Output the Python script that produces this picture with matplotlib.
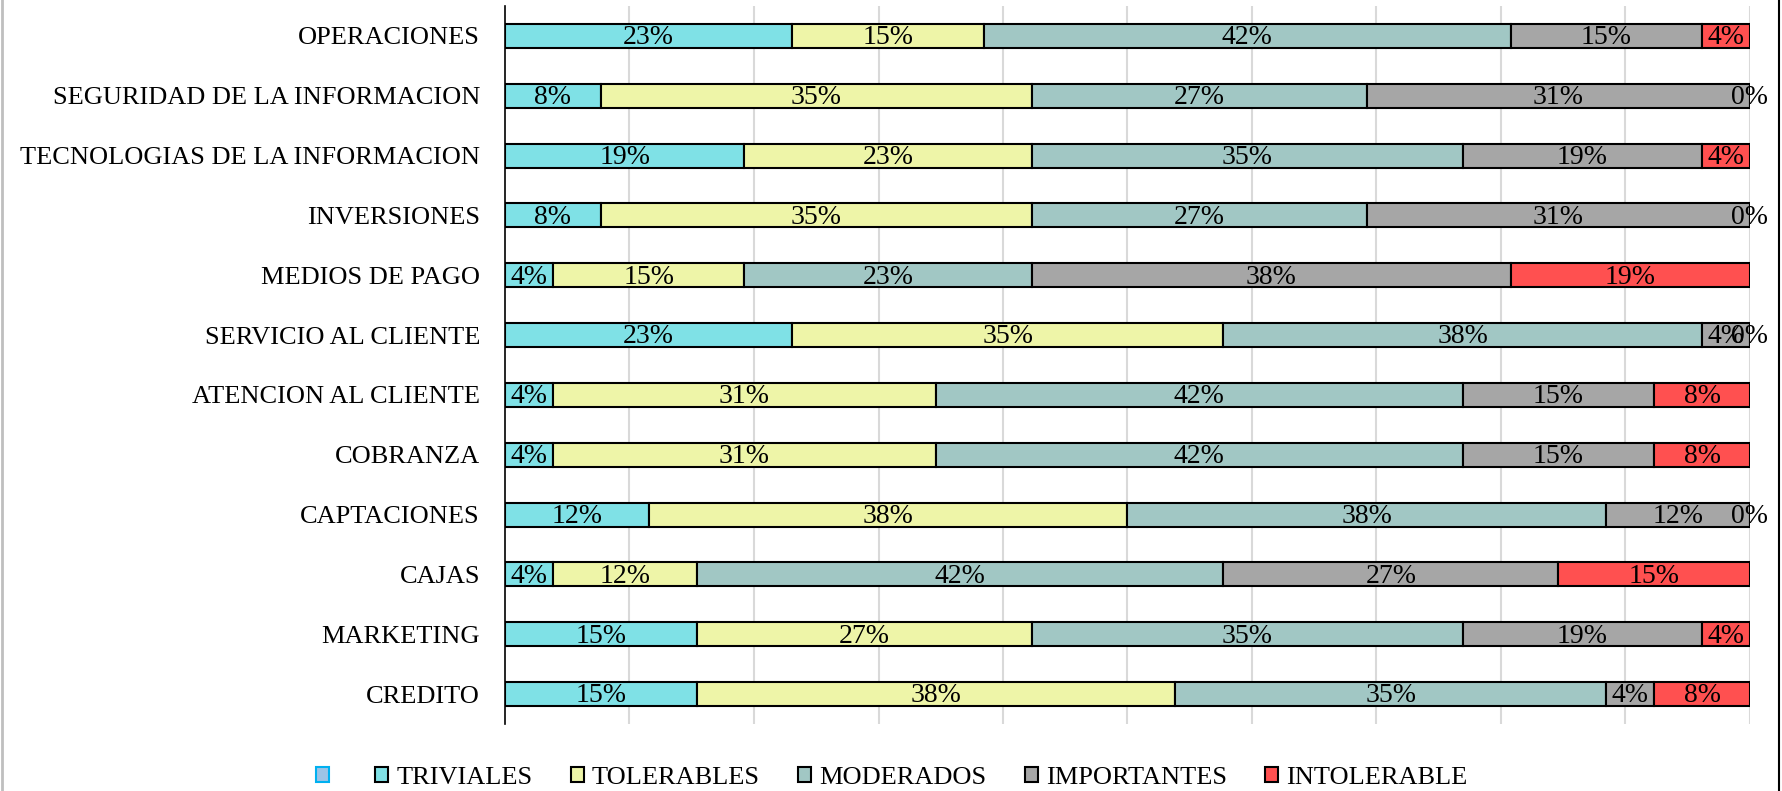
import matplotlib.pyplot as plt
import matplotlib.patches as mpatches
from matplotlib.lines import Line2D
import numpy as np

# procesos (de arriba hacia abajo)
procesos = ["OPERACIONES", "SEGURIDAD DE LA INFORMACION", "TECNOLOGIAS DE LA INFORMACION",
            "INVERSIONES", "MEDIOS DE PAGO", "SERVICIO AL CLIENTE", "ATENCION AL CLIENTE",
            "COBRANZA", "CAPTACIONES", "CAJAS", "MARKETING", "CREDITO"]

# número de riesgos por nivel (26 riesgos por proceso)
triviales   = [6, 2, 5, 2, 1, 6, 1, 1, 3, 1, 4, 4]
tolerables  = [4, 9, 6, 9, 4, 9, 8, 8, 10, 3, 7, 10]
moderados   = [11, 7, 9, 7, 6, 10, 11, 11, 10, 11, 9, 9]
importantes = [4, 8, 5, 8, 10, 1, 4, 4, 3, 7, 5, 1]
intolerable = [1, 0, 1, 0, 5, 0, 2, 2, 0, 4, 1, 2]

series = ["TRIVIALES", "TOLERABLES", "MODERADOS", "IMPORTANTES", "INTOLERABLE"]
colores = ["#7FE1E6", "#EEF5A8", "#A1C7C4", "#A6A6A6", "#FF5050"]

datos = np.array([triviales, tolerables, moderados, importantes, intolerable], dtype=float)
pct = datos / datos.sum(axis=0)

plt.rcParams["font.family"] = ["Liberation Serif", "DejaVu Serif"]

fig = plt.figure(figsize=(17.83, 7.91), dpi=100)
ax = fig.add_axes([505 / 1783, 1 - 724 / 791, 1245 / 1783, 718 / 791])

y = np.arange(len(procesos))
izq = np.zeros(len(procesos))
for i in range(len(series)):
    ax.barh(y, pct[i], left=izq, height=0.4, color=colores[i],
            edgecolor="black", linewidth=1.5, zorder=2)
    for j in range(len(procesos)):
        ax.text(izq[j] + pct[i][j] / 2, y[j] + 0.03, f"{pct[i][j]*100:.0f}%",
                ha="center", va="center", fontsize=20, color="black", zorder=3)
    izq = izq + pct[i]

ax.set_xlim(0, 1.0)
ax.set_ylim(len(procesos) - 0.5, -0.5)
ax.set_yticks(y)
ax.set_yticklabels(procesos, fontsize=19)
ax.tick_params(axis="y", length=0, pad=18)
ax.set_xticks(np.arange(0.1, 1.01, 0.1))
ax.tick_params(axis="x", length=0, labelbottom=False)
ax.grid(axis="x", color="#D9D9D9", linewidth=1.5, zorder=0)
for s in ["top", "right", "bottom"]:
    ax.spines[s].set_visible(False)
ax.spines["left"].set_linewidth(1.2)
ax.spines["left"].set_zorder(4)

# leyenda: primer elemento vacío como en el original
handles = [mpatches.Patch(facecolor="#9DC3E6", edgecolor="#00B0F0", linewidth=1.5)]
handles += [mpatches.Patch(facecolor=c, edgecolor="black", linewidth=1.5) for c in colores]
etiquetas = [""] + series
fig.legend(handles, etiquetas, loc="center", bbox_to_anchor=(0.5, 1 - 778 / 791),
           ncol=6, frameon=False, fontsize=19, handlelength=0.5, handleheight=0.5,
           handletextpad=0.3, columnspacing=1.45, borderaxespad=0)

# borde del gráfico
fig.add_artist(Line2D([0.001, 0.001], [0, 1], color="#BFBFBF", linewidth=2))
fig.add_artist(Line2D([1779 / 1783, 1779 / 1783], [0, 1], color="black", linewidth=1.5))

fig.savefig("out.png", dpi=100)
